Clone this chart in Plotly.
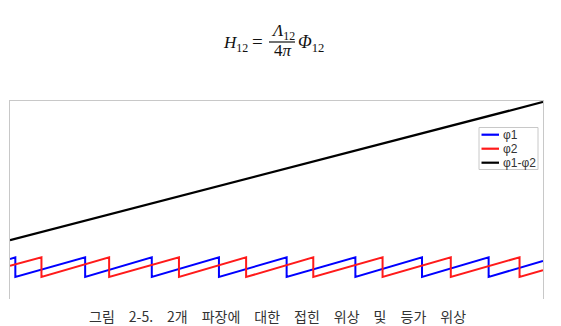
import math
import plotly.graph_objects as go

# ---- data (x in arbitrary sample units 0..1000, phase in rad) ----
x_start, x_end = 0, 1000
phi1_drop_x = [10, 141, 266, 392, 519, 648, 773, 898]
phi2_drop_x = [59, 186, 317, 443, 569, 699, 827, 956]
phi1_start, phi1_end = 2.6, 2.0
phi2_start, phi2_end = 0.4, -1.0
wrap_top, wrap_bottom = math.pi, -math.pi
diff_x = [0, 1000]
diff_y = [8.6, 52.7]
legend_names = ["φ1", "φ2", "φ1-φ2"]
caption_words = ["그림", "2-5.", "2개", "파장에", "대한", "접힌", "위상", "및", "등가", "위상"]


def sawtooth(drops, y0, y1):
    xs, ys = [x_start], [y0]
    for d in drops:
        xs += [d, d]
        ys += [wrap_top, wrap_bottom]
    xs.append(x_end)
    ys.append(y1)
    return xs, ys


W, H = 561, 326
L, R, T, B = 10, 18, 0, 27
PLOT_TOP = 101
pw, ph = W - L - R, H - T - B   # paper area: x 10..543, y 0..299


def px(xp):
    return (xp - L) / pw


def py(yp):
    return 1 - (yp - T) / ph


colors = ["#0000ff", "#ff1a1a", "#000000"]

fig = go.Figure()
x1, y1 = sawtooth(phi1_drop_x, phi1_start, phi1_end)
x2, y2 = sawtooth(phi2_drop_x, phi2_start, phi2_end)
fig.add_trace(go.Scatter(x=x1, y=y1, mode="lines", name=legend_names[0],
                         line=dict(color=colors[0], width=2), showlegend=False))
fig.add_trace(go.Scatter(x=x2, y=y2, mode="lines", name=legend_names[1],
                         line=dict(color=colors[1], width=2), showlegend=False))
fig.add_trace(go.Scatter(x=diff_x, y=diff_y, mode="lines", name=legend_names[2],
                         line=dict(color=colors[2], width=2.2), showlegend=False))

# fraction bar of the formula, drawn on an invisible helper axis in the header area
HEADER_H = 60
fig.add_trace(go.Scatter(x=[269, 295], y=[HEADER_H - 42, HEADER_H - 42], mode="lines",
                         xaxis="x2", yaxis="y2", hoverinfo="skip", showlegend=False,
                         line=dict(color="#111111", width=1.2)))

shapes = []
annotations = []

# manual legend
shapes.append(dict(type="rect", xref="paper", yref="paper",
                   x0=px(479), x1=px(538), y0=py(127.5), y1=py(169.5),
                   line=dict(color="#c8c8c8", width=1), fillcolor="white", layer="above"))
for i, name in enumerate(legend_names):
    yy = 134.7 + i * 14
    shapes.append(dict(type="line", xref="paper", yref="paper",
                       x0=px(481.5), x1=px(499), y0=py(yy), y1=py(yy),
                       line=dict(color=colors[i], width=2.2), layer="above"))
    annotations.append(dict(text=name, xref="paper", yref="paper",
                            x=px(500.5), y=py(yy), xanchor="left", yanchor="middle",
                            showarrow=False,
                            font=dict(family="Liberation Sans, Arial", size=12, color="#333333")))

# formula H12 = Λ12/(4π) Φ12
serif = "Liberation Serif, Times New Roman, serif"
annotations.append(dict(text="<i>H</i><sub>12</sub>", xref="paper", yref="paper",
                        x=px(220.5), y=py(43.5), xanchor="left", yanchor="middle",
                        showarrow=False, font=dict(family=serif, size=17, color="#111")))
annotations.append(dict(text="=", xref="paper", yref="paper",
                        x=px(257), y=py(41), xanchor="center", yanchor="middle",
                        showarrow=False, font=dict(family=serif, size=19, color="#111")))
annotations.append(dict(text="<i>Λ</i><sub>12</sub>", xref="paper", yref="paper",
                        x=px(282.5), y=py(31.5), xanchor="center", yanchor="middle",
                        showarrow=False, font=dict(family=serif, size=17, color="#111")))
annotations.append(dict(text="4<i>π</i>", xref="paper", yref="paper",
                        x=px(282.5), y=py(50.5), xanchor="center", yanchor="middle",
                        showarrow=False, font=dict(family=serif, size=17, color="#111")))
annotations.append(dict(text="<i>Φ</i><sub>12</sub>", xref="paper", yref="paper",
                        x=px(296), y=py(43.5), xanchor="left", yanchor="middle",
                        showarrow=False, font=dict(family=serif, size=18, color="#111")))

# caption
caption = "\u2003".join(caption_words)
annotations.append(dict(text=caption, xref="paper", yref="paper",
                        x=px(277), y=py(316), xanchor="center", yanchor="middle",
                        showarrow=False,
                        font=dict(family="Noto Sans CJK KR", size=14, color="#333333")))

hidden = dict(showline=False, showgrid=False, zeroline=False, showticklabels=False,
              ticks="", fixedrange=True)
fig.update_layout(
    width=W, height=H,
    margin=dict(l=L, r=R, t=T, b=B),
    paper_bgcolor="white", plot_bgcolor="rgba(0,0,0,0)",
    shapes=shapes, annotations=annotations, showlegend=False,
    xaxis=dict(range=[x_start, x_end], side="top", showline=True, linecolor="#c8c8c8",
               linewidth=1, mirror=False, showgrid=False, zeroline=False,
               showticklabels=False, ticks=""),
    yaxis=dict(range=[-10.16, 53.0], domain=[0, py(PLOT_TOP)], showline=True,
               linecolor="#c8c8c8", linewidth=1, mirror=True, showgrid=False,
               zeroline=False, showticklabels=False, ticks=""),
    xaxis2=dict(range=[L, W - R], domain=[0, 1], anchor="y2", **hidden),
    yaxis2=dict(range=[0, HEADER_H], domain=[py(HEADER_H), 1], anchor="x2", **hidden),
)

fig.write_html("out.html")
